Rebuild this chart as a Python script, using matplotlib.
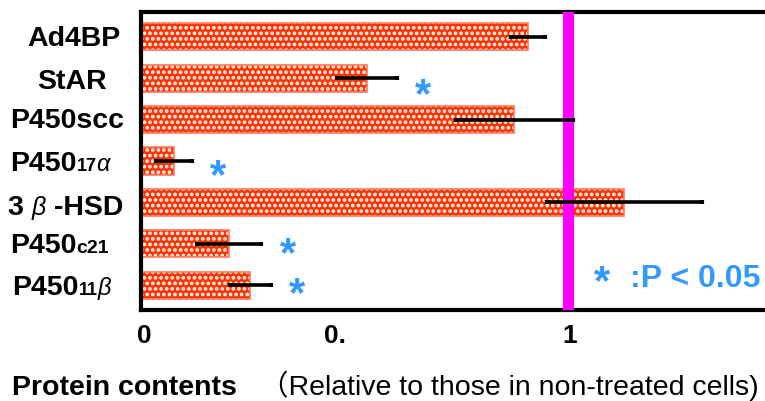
import numpy as np
import matplotlib.pyplot as plt
from matplotlib import transforms

plt.rcParams['font.family'] = ['Liberation Sans', 'DejaVu Sans', 'Noto Sans CJK JP']
plt.rcParams['hatch.linewidth'] = 1.8

# protein names as drawn: (text, size, style) pieces
labels = [
    [("Ad4BP", 20.5, 'normal')],
    [("StAR", 20.5, 'normal')],
    [("P450scc", 20.5, 'normal')],
    [("P450", 20.5, 'normal'), ("17", 13, 'normal'), ("\u03b1", 17, 'italic')],
    [("3 ", 20.5, 'normal'), ("\u03b2", 18, 'italic'), (" -HSD", 20.5, 'normal')],
    [("P450", 20.5, 'normal'), ("c21", 14, 'normal')],
    [("P450", 20.5, 'normal'), ("11", 13, 'normal'), ("\u03b2", 17, 'italic')],
]
values = [0.907, 0.530, 0.875, 0.077, 1.133, 0.207, 0.256]
errors = [0.039, 0.070, 0.137, 0.042, 0.182, 0.075, 0.048]
signif = [False, True, False, True, False, True, True]
xtick_pos = [0.008, 0.455, 1.005]
xtick_txt = ['0', '0.', '1']

W, H = 765, 401
fig = plt.figure(figsize=(W / 100, H / 100), dpi=100)
ax = fig.add_axes([141 / W, 91 / H, 640 / W, 298 / H])

y = np.arange(len(values))
red = '#FF3300'
blue = '#3399FF'

ax.barh(y, values, height=0.66, color=red, edgecolor='white', hatch='...',
        linewidth=0, zorder=2)
ax.barh(y, values, height=0.66, fill=False, edgecolor='#FF7A5C',
        linewidth=1.2, zorder=2)
ax.axvline(1, color='#FF00FF', lw=8, zorder=3)
ax.errorbar(values, y, xerr=errors, fmt='none', ecolor='black',
            elinewidth=2.6, capsize=1.5, capthick=3, zorder=4)

star_dy = [0, 0.42, 0, 0.39, 0, 0.27, 0.25]
for i, s in enumerate(signif):
    if s:
        ax.text(values[i] + errors[i] + 0.062, y[i] + star_dy[i], '*',
                color=blue, fontsize=30, fontweight='bold',
                ha='center', va='center')

ax.text(1.08, 5.95, '*', color=blue, fontsize=30, fontweight='bold',
        ha='center', va='center')
ax.text(1.147, 5.85, ':P < 0.05', color=blue, fontsize=23,
        fontweight='bold', ha='left', va='center')

ax.set_xlim(0, 1.5)
ax.set_ylim(6.6, -0.6)
ax.set_yticks([])
ax.set_xticks(xtick_pos)
ax.set_xticklabels(xtick_txt, fontsize=19, fontweight='bold')
ax.tick_params(axis='x', length=0, pad=10)
for side in ['top', 'bottom', 'left']:
    ax.spines[side].set_linewidth(3)
ax.spines['right'].set_visible(False)

# y labels, built piece by piece on a shared baseline
tr = transforms.blended_transform_factory(fig.transFigure, ax.transData)
starts = [27, 37, 10, 10, 8, 10, 12]
drops = [9, 11, 8, 10, 13, 9, 10]
renderer = fig.canvas.get_renderer()
for i, parts in enumerate(labels):
    xpx = 0
    for txt, sz, st in parts:
        wt = 'normal' if st == 'italic' else 'bold'
        off = transforms.offset_copy(tr, fig=fig, x=xpx, y=-drops[i],
                                     units='dots')
        t = ax.text(starts[i] / W, y[i], txt, transform=off, fontsize=sz,
                    fontweight=wt, fontstyle=st, ha='left', va='baseline')
        xpx += t.get_window_extent(renderer).width

fig.text(12 / W, 1 - 395 / H, 'Protein contents', fontsize=20.5,
         fontweight='bold', ha='left', va='baseline')
fig.text(260 / W, 1 - 395 / H, '\uff08Relative to those in non-treated cells)',
         fontsize=20.5, ha='left', va='baseline')

fig.savefig('out.png', dpi=100)
